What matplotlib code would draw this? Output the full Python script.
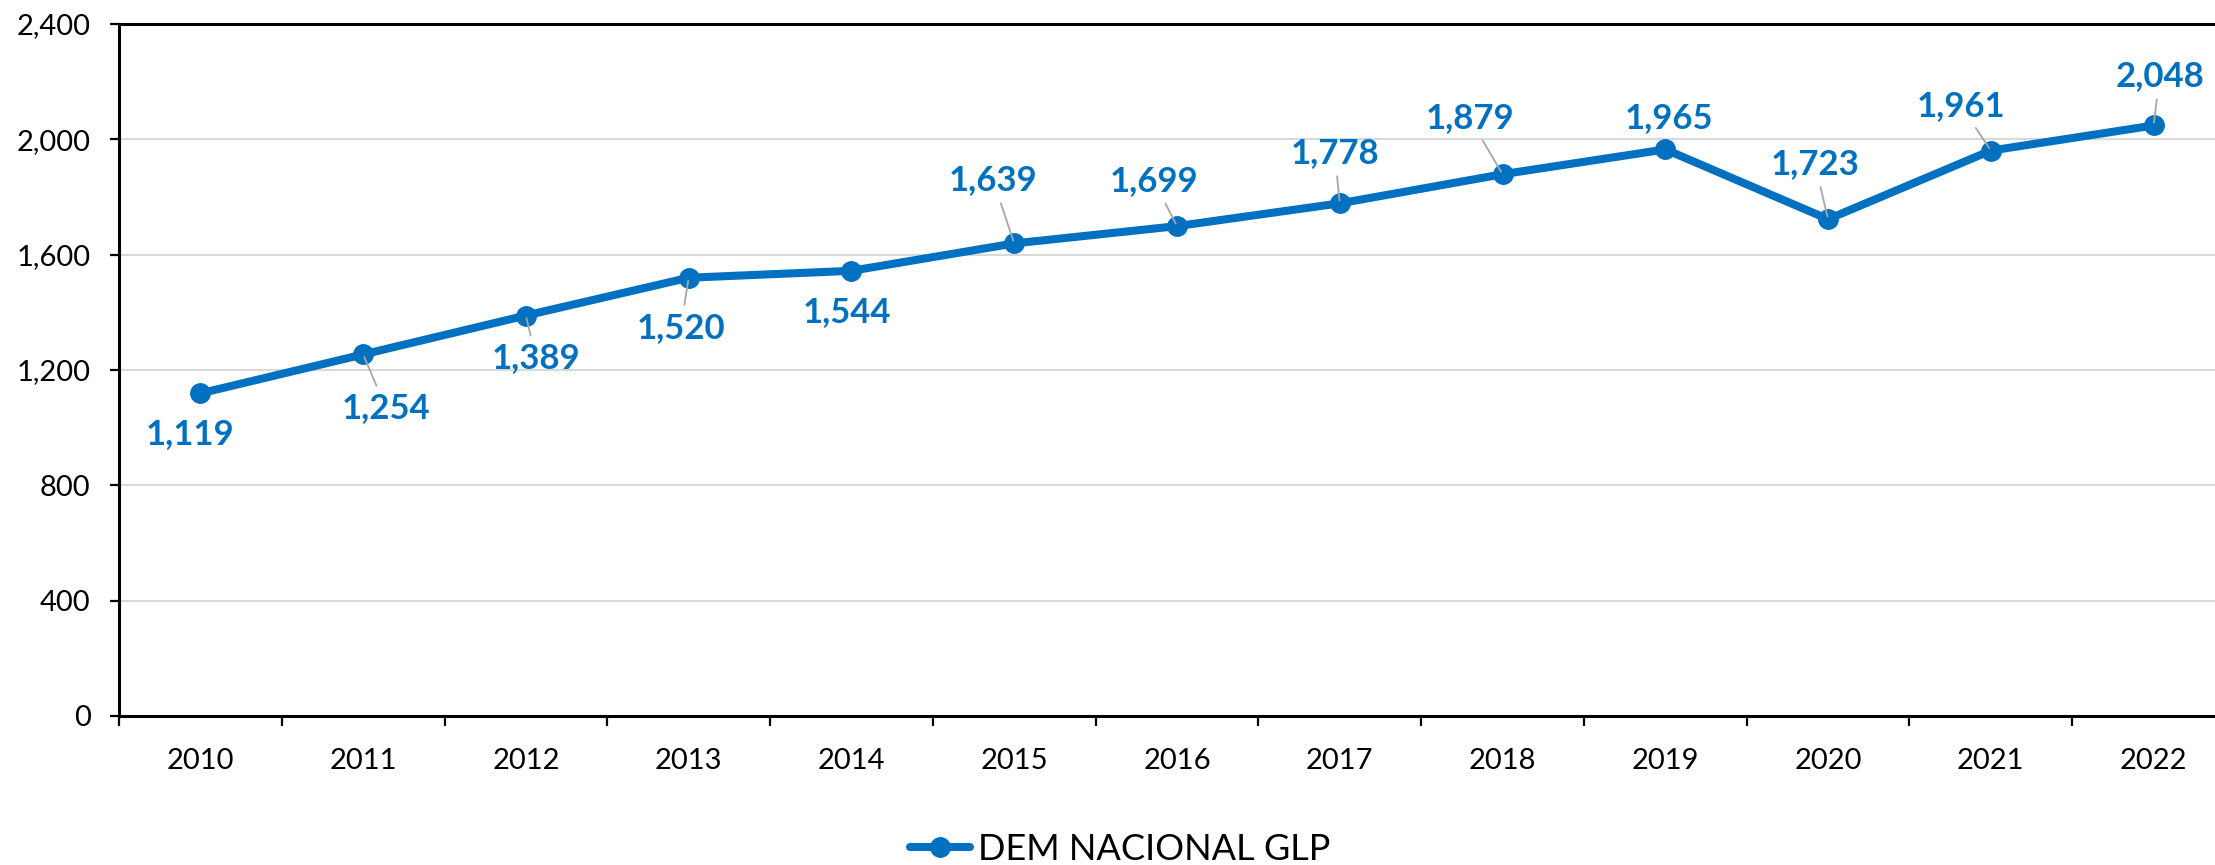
#! /usr/bin/env python3

import numpy as np
import matplotlib
matplotlib.use('Agg')
import matplotlib.pyplot as plt

plt.rcParams['font.family'] = ['Lato', 'DejaVu Sans']

YEARS = ['2010', '2011', '2012', '2013', '2014', '2015', '2016',
         '2017', '2018', '2019', '2020', '2021', '2022']
DEMANDA = [1119, 1254, 1389, 1520, 1544, 1639, 1699,
           1778, 1879, 1965, 1723, 1961, 2048]
SERIES_NAME = 'DEM NACIONAL GLP'

# label offsets from each point, in pixels (x right, y up)
label_dx = [-10, 23, 10, -8, -5, -21, -23, -5, -33, 4, -13, -30, 6]
label_dy = [-41, -54, -43, -50, -41, 63, 45, 50, 56, 31, 55, 45, 49]
leader = [False, True, True, True, False, True, True, True, True, False, True, True, True]

BLUE = '#0070C0'

fig = plt.figure(figsize=(22.15, 8.65), dpi=100)
ax = fig.add_axes([119 / 2215, 1 - 716 / 865, (2235 - 119) / 2215, (716 - 24) / 865])

x = np.arange(len(YEARS))
ax.plot(x, DEMANDA, color=BLUE, lw=5.8, marker='o', ms=14, label=SERIES_NAME,
        solid_capstyle='round', zorder=3)

px_to_pt = 72 / 100
for i, v in enumerate(DEMANDA):
    arrow = None
    if leader[i]:
        arrow = dict(arrowstyle='-', color='#a6a6a6', lw=1.3, shrinkA=3, shrinkB=2)
    ax.annotate(f'{v:,}', xy=(i, v),
                xytext=(label_dx[i] * px_to_pt, label_dy[i] * px_to_pt),
                textcoords='offset points', ha='center', va='center',
                fontsize=25, fontweight='bold', color=BLUE,
                arrowprops=arrow, zorder=4)

ax.set_xlim(-0.5, len(YEARS) - 0.5)
ax.set_ylim(0, 2400)
ax.set_yticks(np.arange(0, 2401, 400))
ax.set_yticklabels([f'{t:,}' for t in range(0, 2401, 400)])
ax.yaxis.grid(True, color='#d9d9d9', lw=1.5)
ax.set_axisbelow(True)

ax.set_xticks(x)
ax.set_xticklabels(YEARS)
ax.set_xticks(np.arange(-0.5, len(YEARS)), minor=True)
ax.tick_params(axis='x', which='major', length=0, pad=23, labelsize=21)
ax.tick_params(axis='x', which='minor', length=7, width=1.6, direction='out')
ax.tick_params(axis='y', length=6.5, width=1.6, direction='out', pad=14, labelsize=21)

for s in ['left', 'bottom', 'top', 'right']:
    ax.spines[s].set_linewidth(2.2)
    ax.spines[s].set_color('black')

fig.legend(loc='center', bbox_to_anchor=(1120 / 2215, 1 - 849 / 865),
           frameon=False, fontsize=26, handlelength=1.67, handletextpad=0.2,
           borderpad=0, borderaxespad=0)

plt.savefig('out.png', dpi=100)
